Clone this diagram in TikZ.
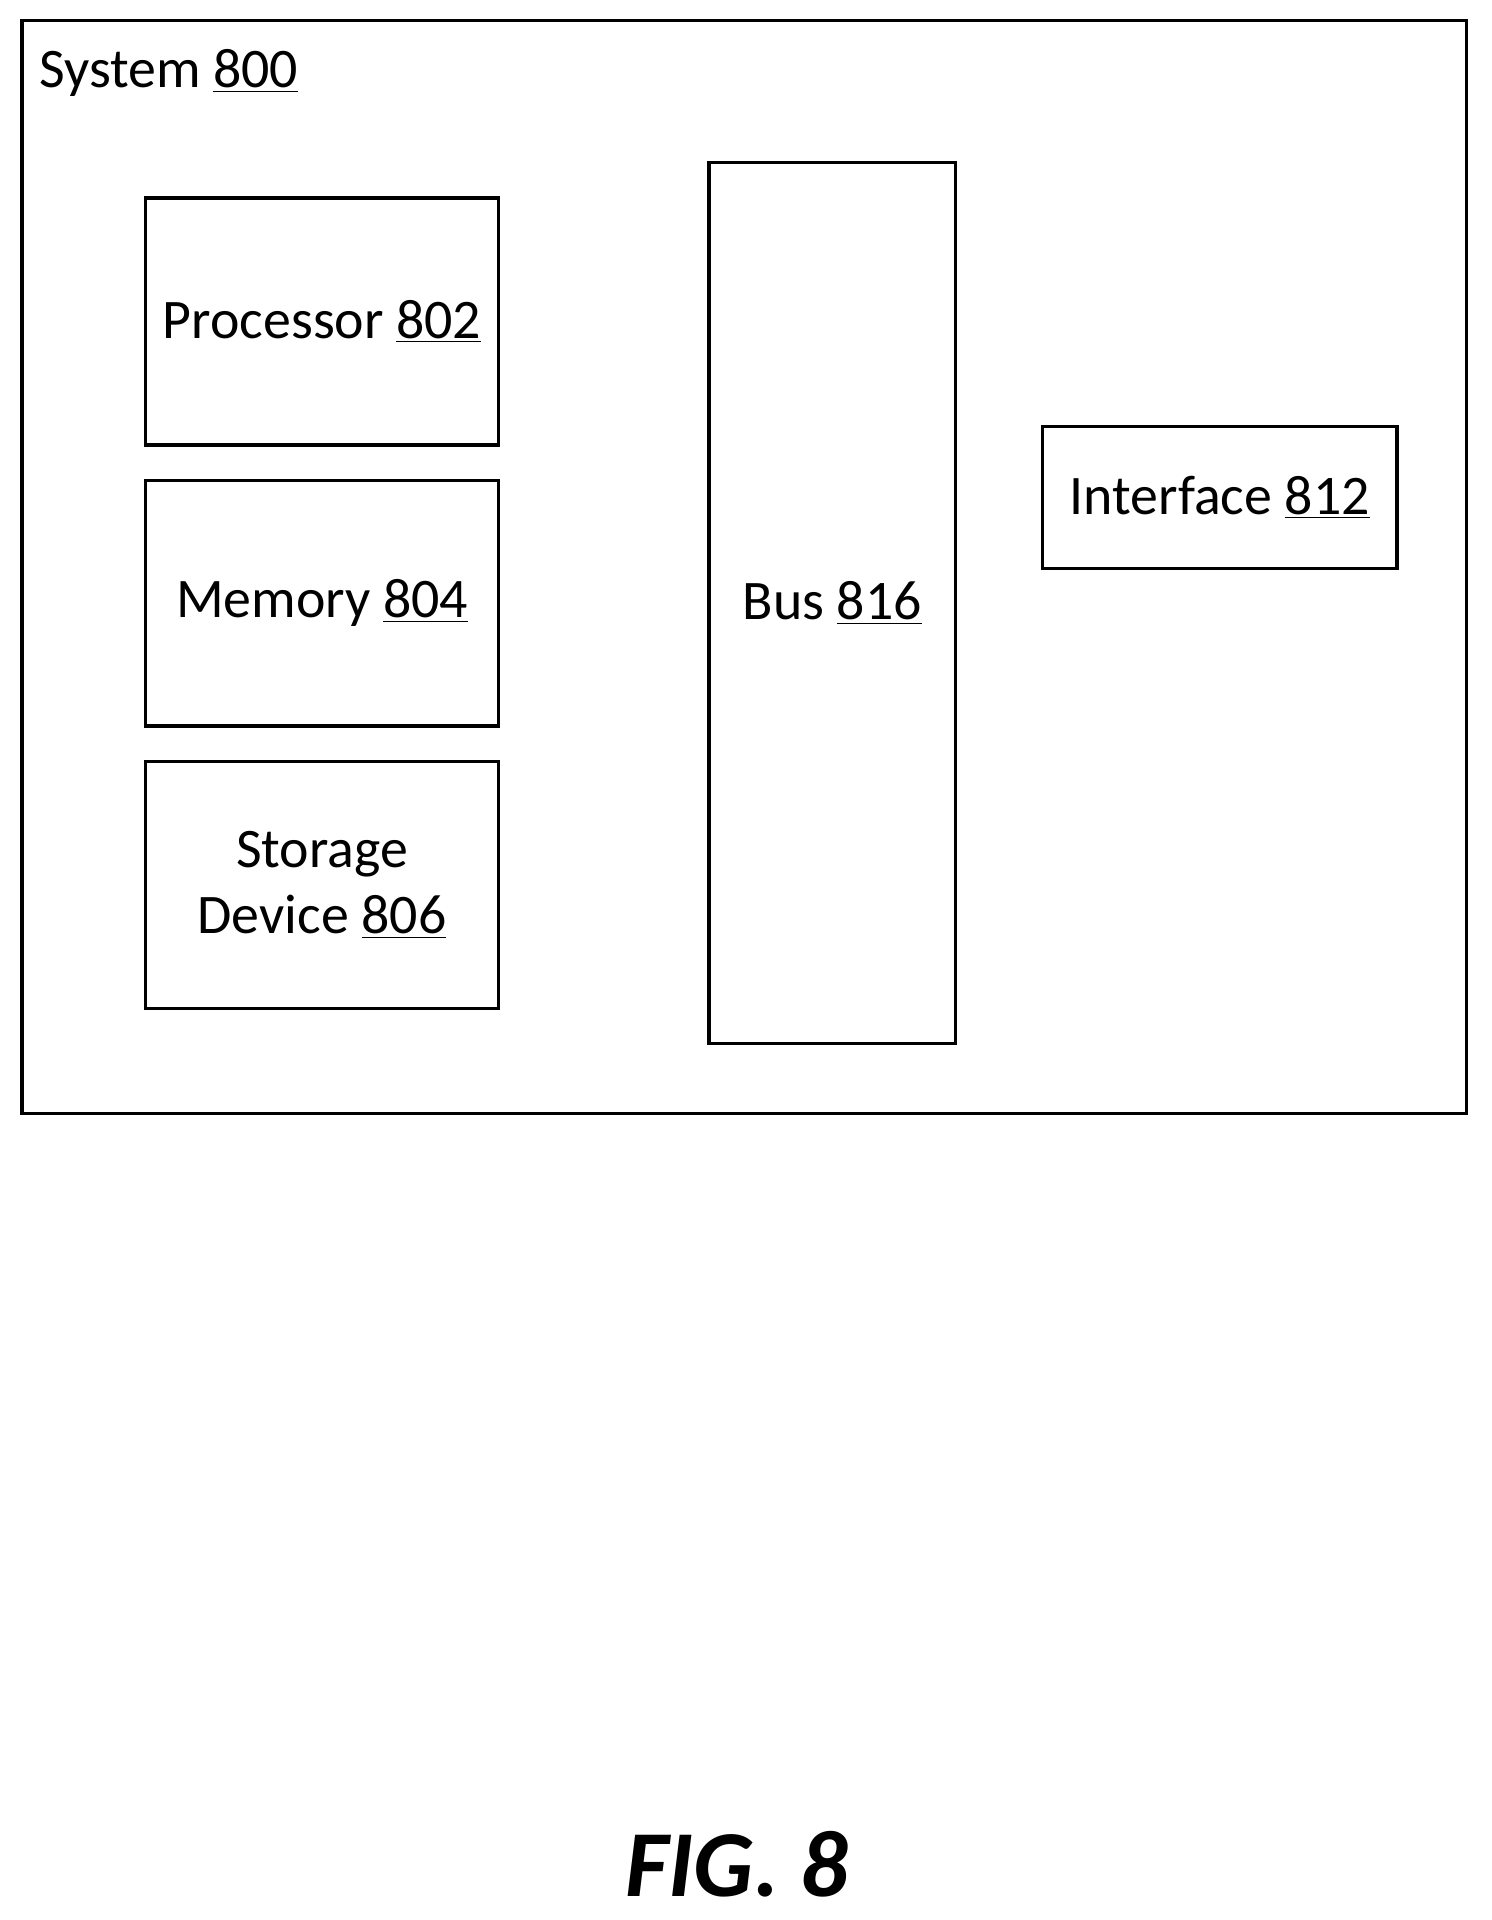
\documentclass[tikz,border=0pt]{standalone}
\usepackage{fontspec}
\setmainfont{Carlito}
\usepackage{tikz}
\usetikzlibrary{positioning}

\tikzset{
    block/.style={draw, line width=1.6pt, align=center, font=\fontsize{26}{31}\selectfont},
}

\begin{document}
\begin{tikzpicture}[x=0.02cm, y=-0.02cm]
    \useasboundingbox (0,0) rectangle (1220,1571);

    % Outer system box
    \draw[line width=1.6pt] (18,17) rectangle (1200,911);
    \node[anchor=west, font=\fontsize{26}{31}\selectfont] (sys) at (26,60) {System \underline{800}};

    % Components
    \node[block, minimum width=5.78cm, minimum height=4.04cm] (proc) at (263.5,263) {Processor \underline{802}};
    \node[block, minimum width=5.78cm, minimum height=4.02cm] (mem) at (263.5,493.5) {Memory \underline{804}};
    \node[block, minimum width=5.78cm, minimum height=4.04cm] (stor) at (263.5,724) {Storage\\Device \underline{806}};
    \node[block, minimum width=4.04cm, minimum height=14.42cm] (bus) at (681,493.5) {Bus \underline{816}};
    \node[block, minimum width=5.80cm, minimum height=2.32cm] (intf) at (998,407) {Interface \underline{812}};

    % Figure label
    \node[font=\fontsize{44}{50}\selectfont\bfseries\itshape] (fig) at (603,1525) {FIG. 8};
\end{tikzpicture}
\end{document}
